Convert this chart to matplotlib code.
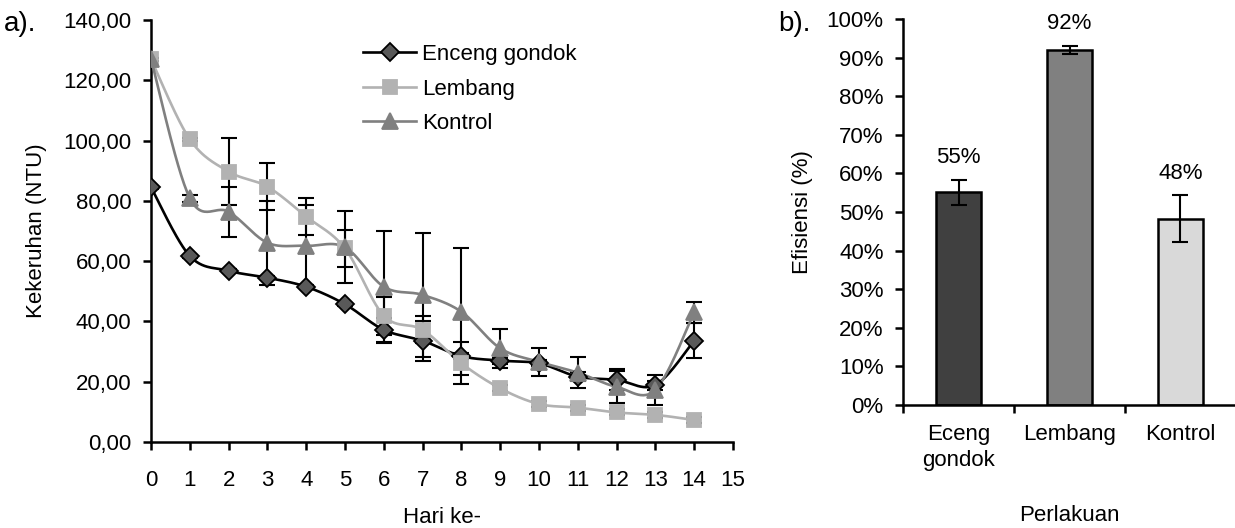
import numpy as np
import matplotlib.pyplot as plt
from matplotlib.lines import Line2D

plt.rcParams['font.family'] = ['Liberation Sans', 'DejaVu Sans']
plt.rcParams['font.size'] = 16

# --- data: a) turbidity per day ---
days = list(range(15))
enceng = [84.5, 61.7, 56.8, 54.5, 51.5, 45.7, 37.2, 33.6, 28.5, 27.0, 26.1, 21.7, 20.6, 18.9, 33.6]
lembang = [127.0, 100.4, 89.7, 84.7, 74.8, 64.2, 41.9, 37.2, 26.1, 17.8, 12.6, 11.4, 9.8, 9.0, 7.3]
kontrol = [127.0, 80.9, 76.4, 66.1, 65.1, 64.6, 51.5, 48.8, 43.2, 31.1, 26.6, 23.0, 18.3, 17.3, 43.0]
enceng_err = [0.5, 0.5, 0.5, 0.5, 0.5, 0.5, 3.9, 6.6, 1.0, 1.0, 1.0, 1.5, 3.5, 1.5, 5.8]
lembang_err = [0.5, 0.5, 11.0, 7.8, 6.0, 6.2, 6.3, 4.5, 7.0, 1.0, 1.0, 1.0, 1.0, 1.0, 1.0]
kontrol_err = [0.5, 1.2, 8.3, 14.0, 13.5, 12.0, 18.5, 20.6, 21.1, 6.4, 4.7, 5.1, 5.2, 4.9, 3.6]

# --- data: b) efficiency ---
perlakuan = ['Eceng\ngondok', 'Lembang', 'Kontrol']
efisiensi = [55.1, 92.0, 48.3]
efisiensi_err = [3.3, 1.0, 6.0]
label_txt = ['55%', '92%', '48%']


def smooth(x, y, n=30):
    # excel-like smoothed line (bezier with catmull-rom control points)
    x = np.asarray(x, float)
    y = np.asarray(y, float)
    px, py = [], []
    for i in range(len(x) - 1):
        i0 = max(i - 1, 0)
        i3 = min(i + 2, len(x) - 1)
        c1x = x[i] + (x[i + 1] - x[i0]) / 6
        c1y = y[i] + (y[i + 1] - y[i0]) / 6
        c2x = x[i + 1] - (x[i3] - x[i]) / 6
        c2y = y[i + 1] - (y[i3] - y[i]) / 6
        t = np.linspace(0, 1, n)
        bx = (1-t)**3*x[i] + 3*(1-t)**2*t*c1x + 3*(1-t)*t**2*c2x + t**3*x[i+1]
        by = (1-t)**3*y[i] + 3*(1-t)**2*t*c1y + 3*(1-t)*t**2*c2y + t**3*y[i+1]
        px.extend(bx)
        py.extend(by)
    return px, py


fig = plt.figure(figsize=(12.35, 5.28), dpi=100)

# ---------------- a) ----------------
ax = fig.add_axes([0.1223, 0.1629, 0.4712, 0.7992])

series = [
    ('Enceng gondok', enceng, enceng_err, 'black', '#595959', 'black', 'D', 9.5),
    ('Lembang', lembang, lembang_err, '#b2b2b2', '#b2b2b2', '#b2b2b2', 's', 10.5),
    ('Kontrol', kontrol, kontrol_err, '#808080', '#808080', '#808080', '^', 11.5),
]
handles = []
for name, vals, err, lc, fc, ec, mk, ms in series:
    ax.errorbar(days, vals, yerr=err, fmt='none', ecolor='black', elinewidth=1.5,
                capsize=6, capthick=1.5, zorder=2)
    sx, sy = smooth(days, vals)
    ax.plot(sx, sy, color=lc, lw=1.9, zorder=3)
    ax.plot(days, vals, ls='none', marker=mk, ms=ms, mfc=fc, mec=ec, mew=1.3, zorder=4)
    handles.append(Line2D([], [], color=lc, lw=1.9, marker=mk, ms=ms, mfc=fc, mec=ec, mew=1.3))

ax.set_xlim(0, 15)
ax.set_ylim(0, 140)
ax.set_xticks(range(16))
ax.set_yticks(range(0, 141, 20))
ax.set_yticklabels([f'{v},00' for v in range(0, 141, 20)])
ax.spines['top'].set_visible(False)
ax.spines['right'].set_visible(False)
for s in ['left', 'bottom']:
    ax.spines[s].set_linewidth(1.8)
ax.tick_params(direction='out', length=6, width=1.8, labelsize=16)
ax.tick_params(axis='y', pad=8)
ax.tick_params(axis='x', pad=14)
ax.set_xlabel('Hari ke-', fontsize=16, labelpad=12)
ax.set_ylabel('Kekeruhan (NTU)', fontsize=16, labelpad=12)
ax.legend(handles, [s[0] for s in series], loc='upper left', bbox_to_anchor=(0.33, 0.99),
          frameon=False, fontsize=16, handlelength=2.4, handletextpad=0.25, labelspacing=0.6)
fig.text(0.003, 0.955, 'a).', fontsize=20, va='center')

# ---------------- b) ----------------
bx = fig.add_axes([0.7312, 0.233, 0.2696, 0.731])
xpos = np.arange(len(perlakuan))
bx.bar(xpos, efisiensi, width=0.41, color=['#404040', '#808080', '#d9d9d9'],
       edgecolor='black', linewidth=1.8, zorder=2)
bx.errorbar(xpos, efisiensi, yerr=efisiensi_err, fmt='none', ecolor='black',
            elinewidth=1.5, capsize=6, capthick=1.5, zorder=3)
for i in range(len(perlakuan)):
    bx.annotate(label_txt[i], (xpos[i], efisiensi[i] + efisiensi_err[i]), xytext=(0, 16),
                textcoords='offset points', ha='center', va='center', fontsize=16)
bx.set_xlim(-0.5, 2.5)
bx.set_ylim(0, 100)
bx.set_yticks(range(0, 101, 10))
bx.set_yticklabels([f'{v}%' for v in range(0, 101, 10)])
bx.set_xticks(xpos)
bx.set_xticklabels(perlakuan, fontsize=16, linespacing=1.3)
bx.set_xticks([-0.5, 0.5, 1.5, 2.5], minor=True)
bx.tick_params(axis='x', which='major', length=0, pad=14)
bx.tick_params(axis='x', which='minor', direction='out', length=6, width=1.8)
bx.tick_params(axis='y', direction='out', length=6, width=1.8, labelsize=16, pad=8)
bx.spines['top'].set_visible(False)
bx.spines['right'].set_visible(False)
for s in ['left', 'bottom']:
    bx.spines[s].set_linewidth(1.8)
bx.set_ylabel('Efisiensi (%)', fontsize=16, labelpad=10)
bx.set_xlabel('Perlakuan', fontsize=16, labelpad=24)
fig.text(0.630, 0.955, 'b).', fontsize=20, va='center')

fig.savefig('out.png', dpi=100)
